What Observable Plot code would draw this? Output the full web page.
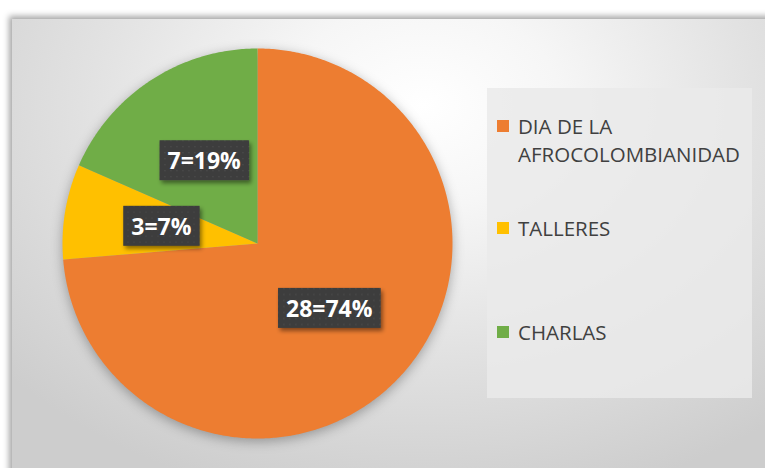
<!DOCTYPE html>
<html><head><meta charset="utf-8">
<script src="https://cdn.jsdelivr.net/npm/d3@7"></script>
<script src="https://cdn.jsdelivr.net/npm/@observablehq/plot@0.6"></script>
<style>
html,body{margin:0;padding:0;background:#fff;}
#wrap{position:relative;width:765px;height:468px;overflow:hidden;background:#fff;}
#panel{position:absolute;left:12px;top:19px;width:790px;height:480px;
  background:radial-gradient(ellipse 70% 85% at 52% 18%, #ffffff 0%, #f6f6f6 25%, #e2e2e2 60%, #cdcdcd 100%);
  box-shadow:-3px -3px 6px rgba(0,0,0,0.35);}
#chart{position:absolute;left:0;top:0;}
#chart svg g[aria-label="line"]{filter:drop-shadow(0px 3px 6px rgba(0,0,0,0.3));}
#legend{position:absolute;left:487px;top:88px;width:265px;height:310px;background:rgba(234,234,234,0.85);
  font-family:"Open Sans",sans-serif;color:#404040;font-size:20.5px;}
.item{position:absolute;left:31px;line-height:28px;white-space:nowrap;}
.sw{position:absolute;left:10px;width:12px;height:12px;}
</style></head><body>
<div id="wrap"><div id="panel"></div><div id="chart"></div><div id="legend"></div></div>
<script>
const categories = ["DIA DE LA AFROCOLOMBIANIDAD", "TALLERES", "CHARLAS"];
const legendLines = [["DIA DE LA", "AFROCOLOMBIANIDAD"], ["TALLERES"], ["CHARLAS"]];
const values = [28, 3, 7];
const labels = ["28=74%", "3=7%", "7=19%"];
const colors = ["#ED7D31", "#FFC000", "#70AD47"];

const arcs = d3.pie().sort(null).value(d => d)(values);
const pts = [];
arcs.forEach((a, i) => {
  const cat = categories[i];
  pts.push({cat, x: 0, y: 0});
  const n = Math.max(2, Math.ceil((a.endAngle - a.startAngle) / 0.01));
  for (let k = 0; k <= n; k++) {
    const t = a.startAngle + (a.endAngle - a.startAngle) * k / n;
    pts.push({cat, x: Math.sin(t), y: Math.cos(t)});
  }
  pts.push({cat, x: 0, y: 0});
});
const labelData = arcs.map((a, i) => {
  const m = (a.startAngle + a.endAngle) / 2;
  return {x: 0.5 * Math.sin(m), y: 0.5 * Math.cos(m), text: labels[i]};
});

const svg = Plot.plot({
  width: 765, height: 468, margin: 0,
  x: {domain: [-1, 1], range: [62, 452], axis: null},
  y: {domain: [-1, 1], range: [438, 48], axis: null},
  color: {domain: categories, range: colors},
  style: {background: "transparent", overflow: "visible"},
  marks: [
    Plot.line(pts, {x: "x", y: "y", z: "cat", fill: "cat", stroke: "none", curve: "linear"}),
    Plot.text(labelData, {x: "x", y: "y", text: "text", fill: "white", fontSize: 23, fontWeight: "bold", fontFamily: "Open Sans"})
  ]
});
document.getElementById("chart").appendChild(svg);

// label boxes
const ns = "http://www.w3.org/2000/svg";
const defs = document.createElementNS(ns, "defs");
defs.innerHTML = `<pattern id="dots" width="6" height="6" patternUnits="userSpaceOnUse">
  <rect width="6" height="6" fill="#3c3c3c"/><rect x="2" y="2" width="1.5" height="1.5" fill="#4a4a4a"/></pattern>
  <filter id="bs" x="-20%" y="-20%" width="150%" height="160%"><feDropShadow dx="2" dy="3" stdDeviation="2" flood-color="#000" flood-opacity="0.45"/></filter>`;
svg.insertBefore(defs, svg.firstChild);
const tg = svg.querySelector('g[aria-label="text"]');
Array.from(tg.querySelectorAll("text")).forEach(t => {
  const b = t.getBBox();
  const cx = b.x + b.width / 2, cy = b.y + b.height / 2;
  const w = b.width + 16, h = 40;
  const r = document.createElementNS(ns, "rect");
  r.setAttribute("x", cx - w / 2); r.setAttribute("y", cy - h / 2);
  r.setAttribute("width", w); r.setAttribute("height", h);
  r.setAttribute("fill", "url(#dots)"); r.setAttribute("filter", "url(#bs)");
  const tr = t.getAttribute("transform");
  if (tr) r.setAttribute("transform", tr);
  t.parentNode.insertBefore(r, t);
});

// legend
const leg = document.getElementById("legend");
const centers = [38, 140, 244];
legendLines.forEach((lines, i) => {
  const sw = document.createElement("div");
  sw.className = "sw"; sw.style.top = (centers[i] - 6) + "px"; sw.style.background = colors[i];
  leg.appendChild(sw);
  const it = document.createElement("div");
  it.className = "item"; it.style.top = (centers[i] - 14) + "px";
  it.innerHTML = lines.join("<br>");
  leg.appendChild(it);
});
</script>
</body></html>
